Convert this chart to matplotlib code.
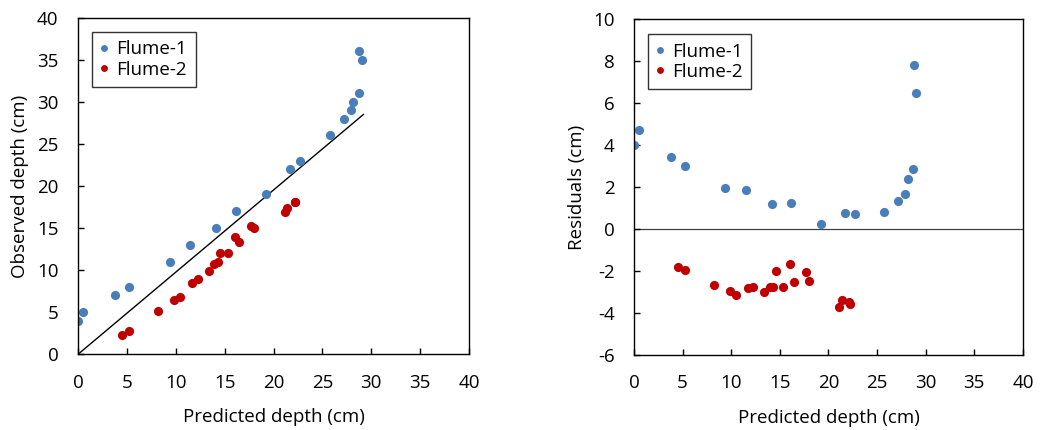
import matplotlib
matplotlib.use("Agg")
import matplotlib.pyplot as plt

# Flume-1 (blue)
pred_1 = [0.05, 0.55, 3.8, 5.25, 9.4, 11.5, 14.15, 16.15, 19.2, 21.7, 22.75,
          25.75, 27.2, 27.9, 28.15, 28.7, 28.75, 29.05]
obs_1 = [4, 5, 7, 8, 11, 13, 15, 17, 19, 22, 23, 26, 28, 29, 30, 31, 36, 35]
res_1 = [4.0, 4.7, 3.45, 3.0, 1.95, 1.85, 1.2, 1.25, 0.22, 0.75, 0.73, 0.8,
         1.35, 1.68, 2.4, 2.86, 7.83, 6.5]

# Flume-2 (red)
pred_2 = [4.5, 5.23, 8.22, 9.87, 10.44, 11.71, 12.28, 13.35, 13.96, 14.31,
          14.56, 15.31, 16.02, 16.42, 17.72, 18.0, 21.13, 21.35, 22.15, 22.2]
obs_2 = [2.35, 2.8, 5.1, 6.4, 6.8, 8.45, 9.0, 9.9, 10.7, 11.0, 12.05, 12.05,
         13.9, 13.35, 15.2, 14.95, 16.85, 17.35, 18.05, 18.1]
res_2 = [-1.79, -1.97, -2.65, -2.97, -3.13, -2.83, -2.75, -3.0, -2.76, -2.75,
         -2.02, -2.76, -1.67, -2.54, -2.05, -2.49, -3.71, -3.4, -3.49, -3.59]

# reference line on the left panel
line_x = [0, 29.2]
line_y = [0, 28.5]

BLUE = "#4a7ebb"
RED = "#c00000"

plt.rcParams["font.family"] = ["Open Sans", "DejaVu Sans"]
plt.rcParams["font.size"] = 13.5
plt.rcParams["axes.unicode_minus"] = False

fig = plt.figure(figsize=(10.4, 4.3), dpi=100)
ax1 = fig.add_axes([0.075, 0.176, 0.376, 0.783])
ax2 = fig.add_axes([0.6096, 0.1744, 0.374, 0.781])


def style(ax):
    for s in ax.spines.values():
        s.set_linewidth(1.0)
        s.set_color("black")
    ax.tick_params(direction="in", length=4, width=1.0, colors="black",
                   labelsize=13.5)
    ax.tick_params(axis="x", pad=14)
    ax.tick_params(axis="y", pad=14)


ax1.plot(line_x, line_y, color="black", lw=1.0, zorder=1)
ax1.plot(pred_1, obs_1, "o", color=BLUE, ms=6.6, mec="none", label="Flume-1", zorder=2)
ax1.plot(pred_2, obs_2, "o", color=RED, ms=6.6, mec="none", label="Flume-2", zorder=2)
ax1.set_xlim(0, 40)
ax1.set_ylim(0, 40)
ax1.set_xticks(range(0, 41, 5))
ax1.set_yticks(range(0, 41, 5))
ax1.set_xlabel("Predicted depth (cm)", labelpad=12)
ax1.set_ylabel("Observed depth (cm)", labelpad=6)
style(ax1)

ax2.axhline(0, color="#404040", lw=0.9, zorder=1)
ax2.plot(pred_1, res_1, "o", color=BLUE, ms=6.6, mec="none", label="Flume-1", zorder=2)
ax2.plot(pred_2, res_2, "o", color=RED, ms=6.6, mec="none", label="Flume-2", zorder=2)
ax2.set_xlim(0, 40)
ax2.set_ylim(-6, 10)
ax2.set_xticks(range(0, 41, 5))
ax2.set_yticks(range(-6, 11, 2))
ax2.set_xlabel("Predicted depth (cm)", labelpad=12)
ax2.set_ylabel("Residuals (cm)", labelpad=5)
style(ax2)

for ax, top in ((ax1, 0.9575), (ax2, 0.955)):
    leg = ax.legend(loc="upper left", bbox_to_anchor=(0.036, top), borderaxespad=0,
                    fancybox=False, frameon=True, edgecolor="black",
                    handlelength=0.4, handletextpad=0.45, borderpad=0.45,
                    labelspacing=0.12, fontsize=13.5, markerscale=0.75)
    leg.get_frame().set_linewidth(1.0)

fig.savefig("out.png", dpi=100, facecolor="white")
